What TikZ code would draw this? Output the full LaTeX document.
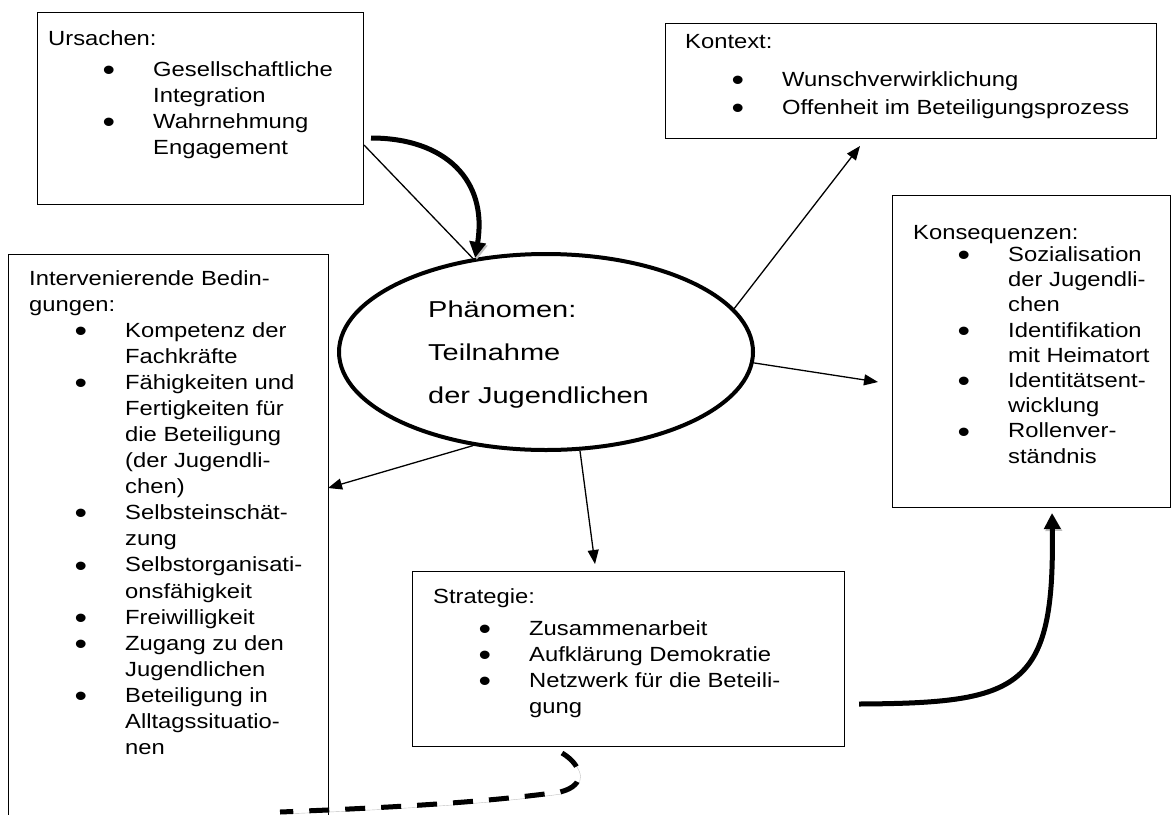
\documentclass[tikz,border=0pt]{standalone}
\usepackage{graphicx}
\usepackage{fontspec}
\setmainfont{Liberation Sans}[FakeStretch=1.16]
\newfontfamily\ellfont{Liberation Sans}[FakeStretch=1.26]
\usetikzlibrary{arrows.meta,calc,shapes.geometric}
\newcommand\bu{\makebox[0pt][r]{\raisebox{-4.2pt}{\scalebox{1.5}{•}}\hspace{38pt}}}
\begin{document}
\begin{tikzpicture}[x=1pt,y=-1pt,
  box/.style={draw, line width=1pt, rectangle, inner sep=0pt, anchor=north west},
  txt/.style={anchor=base west, inner sep=0pt, align=left, font=\fontsize{20.5}{26}\selectfont},
  conn/.style={line width=1.3pt, -{Triangle[length=14pt,width=11pt]}},
  plain/.style={line width=1.3pt},
  shadowed/.style={preaction={draw=black!25, transform canvas={xshift=1.5pt,yshift=-2pt}}},
  heavy/.style={line width=5pt, shadowed, -{Triangle[length=16pt,width=16pt]}},
  heavydash/.style={line width=5pt, shadowed, dash pattern=on 20pt off 16pt},
]
\useasboundingbox (0,0) rectangle (1174,814);

% boxes
\node[box, minimum width=326pt, minimum height=192pt] (urs) at (37,12) {};
\node[box, minimum width=491pt, minimum height=115pt] (ktx) at (665,23) {};
\node[box, minimum width=278pt, minimum height=312pt] (kon) at (892,195) {};
\node[box, minimum width=320pt, minimum height=620pt] (int) at (8,254) {};
\node[box, minimum width=432pt, minimum height=175pt] (str) at (412,571) {};
\node[draw, ellipse, line width=4pt, inner sep=0pt, minimum width=414pt, minimum height=196pt] (ph) at (546,352) {};

% texts (anchor = baseline of the last line)
\node[txt] (ursT) at (48,45) {Ursachen:};
\node[txt, font=\fontsize{20.5}{26.3}\selectfont] (ursL) at (153,154.9) {\bu Gesellschaftliche\\Integration\\\bu Wahrnehmung\\Engagement};

\node[txt] (ktxT) at (685,48) {Kontext:};
\node[txt, font=\fontsize{20.5}{28}\selectfont] (ktxL) at (782,114) {\bu Wunschverwirklichung\\\bu Offenheit im Beteiligungsprozess};

\node[txt] (konT) at (913,239) {Konsequenzen:};
\node[txt, font=\fontsize{20.5}{25.2}\selectfont] (konL) at (1008,463) {\bu Sozialisation\\der Jugendli-\\chen\\\bu Identifikation\\mit Heimatort\\\bu Identitätsent-\\wicklung\\\bu Rollenver-\\ständnis};

\node[txt, font=\fontsize{20.5}{26}\selectfont] (intT) at (29,311) {Intervenierende Bedin-\\gungen:};
\node[txt, font=\fontsize{20.5}{26.1}\selectfont] (intL) at (125,754.6) {\bu Kompetenz der\\Fachkräfte\\\bu Fähigkeiten und\\Fertigkeiten für\\die Beteiligung\\(der Jugendli-\\chen)\\\bu Selbsteinschät-\\zung\\\bu Selbstorganisati-\\onsfähigkeit\\\bu Freiwilligkeit\\\bu Zugang zu den\\Jugendlichen\\\bu Beteiligung in\\Alltagssituatio-\\nen};

\node[txt] (strT) at (433,603) {Strategie:};
\node[txt, font=\fontsize{20.5}{26}\selectfont] (strL) at (529,713) {\bu Zusammenarbeit\\\bu Aufklärung Demokratie\\\bu Netzwerk für die Beteili-\\gung};

\node[anchor=base west, inner sep=0pt, align=left, font=\ellfont\fontsize{23}{43}\selectfont] (phT) at (428,403) {Phänomen:\\Teilnahme\\der Jugendlichen};

% connector end points
\coordinate (ursOut) at ($(urs.north east)+(0,133)$);
\coordinate (ursCurve) at ($(urs.north east)+(7,126)$);
\coordinate (ktxIn) at ($(ktx.south west)+(195,7)$);
\coordinate (konIn) at ($(kon.north west)+(-14,187)$);
\coordinate (intIn) at ($(int.north east)+(-1,234)$);
\coordinate (strIn) at ($(str.north west)+(183,-7)$);
\coordinate (strOut) at ($(str.south east)+(14,-43)$);
\coordinate (konBot) at ($(kon.south west)+(160,5)$);
\coordinate (strDash) at ($(str.south west)+(150,6)$);
\coordinate (dashEnd) at (280,812);

% connectors
\draw[plain] (ursOut) -- (ph.128);
\draw[conn] (ph.13.6) -- (ktxIn);
\draw[conn] (ph.-3.6) -- (konIn);
\draw[conn] (ph.-128) -- (intIn);
\draw[conn] (ph.-71) -- (strIn);

\draw[heavy] (ursCurve) .. controls (445,138) and (488,180) .. (ph.127);
\draw[heavy] (strOut) .. controls (1020,703) and (1055,690) .. (konBot);
\draw[heavydash] (strDash) .. controls (582,765) and (588,785) .. (560,792) .. controls (480,803) and (380,808) .. (dashEnd);
\end{tikzpicture}
\end{document}
